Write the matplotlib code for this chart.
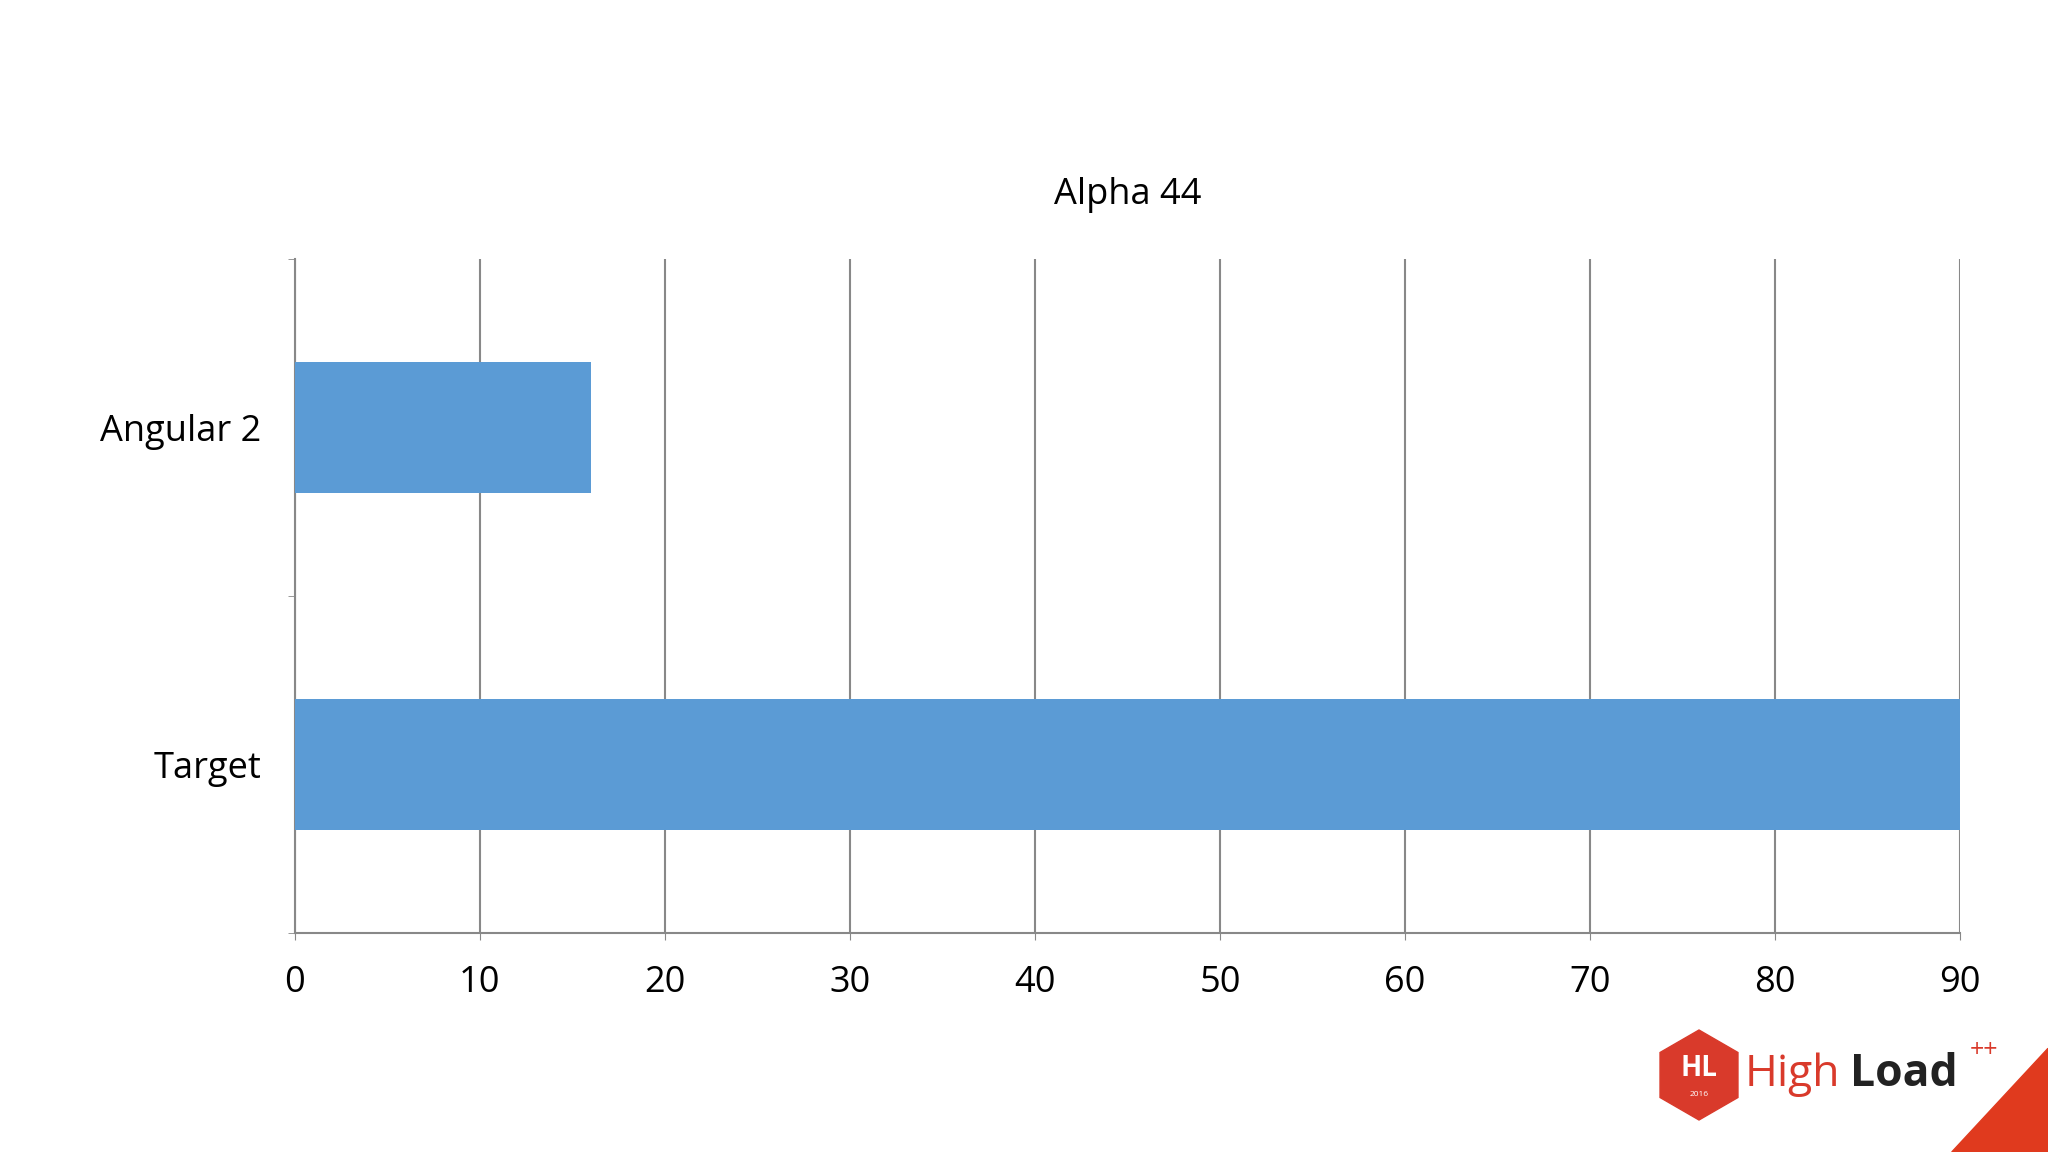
import matplotlib
matplotlib.use("Agg")
import matplotlib.pyplot as plt
from matplotlib.patches import Polygon, RegularPolygon

categories = ["Target", "Angular 2"]
values = [90, 16]
xticks = list(range(0, 100, 10))

plt.rcParams['font.family'] = ['Open Sans', 'DejaVu Sans']
fig = plt.figure(figsize=(20.48, 11.52), dpi=100)
ax = fig.add_axes([0.144, 0.19, 0.813, 0.585])
ax.barh(range(len(categories)), values, height=0.39, color="#5B9BD5", zorder=3)
ax.set_xlim(0, 90)
ax.set_ylim(-0.5, 1.5)
ax.set_xticks(xticks)
ax.set_yticks(range(len(categories)))
ax.set_yticklabels(categories, fontsize=26)
ax.set_yticks([-0.5, 0.5, 1.5], minor=True)
ax.tick_params(axis='y', which='major', length=0, pad=24)
ax.tick_params(axis='y', which='minor', length=5, color="#888888")
ax.tick_params(axis='x', labelsize=26, length=5, color="#888888", pad=18)
ax.grid(axis='x', color="#888888", linewidth=1.5, zorder=0)
for s in ['top', 'right']:
    ax.spines[s].set_visible(False)
for s in ['left', 'bottom']:
    ax.spines[s].set_color("#888888")
    ax.spines[s].set_linewidth(1.5)
ax.set_title("Alpha 44", fontsize=26, pad=40)

# logo
fig.patches.append(Polygon([[1.0, 0.0], [1.0, 0.09], [0.953, 0.0]], closed=True,
                           transform=fig.transFigure, color="#E03A1E"))
fig.patches.append(RegularPolygon((1699, 1152 - 1075), 6, radius=45, orientation=0,
                                  transform=None, color="#D93A2B"))
fig.text(1699/2048, 1-1068/1152, "HL", color="white", fontsize=20, fontweight="bold", ha="center", va="center")
fig.text(1699/2048, 1-1095/1152, "2016", color="white", fontsize=6, ha="center", va="center")
fig.text(0.852, 0.067, "High", color="#D93A2B", fontsize=32, ha="left", va="center")
fig.text(0.9035, 0.067, "Load", color="#222222", fontsize=32, fontweight="bold", ha="left", va="center")
fig.text(0.962, 0.088, "++", color="#D93A2B", fontsize=18, ha="left", va="center")
fig.savefig("out.png", dpi=100)
